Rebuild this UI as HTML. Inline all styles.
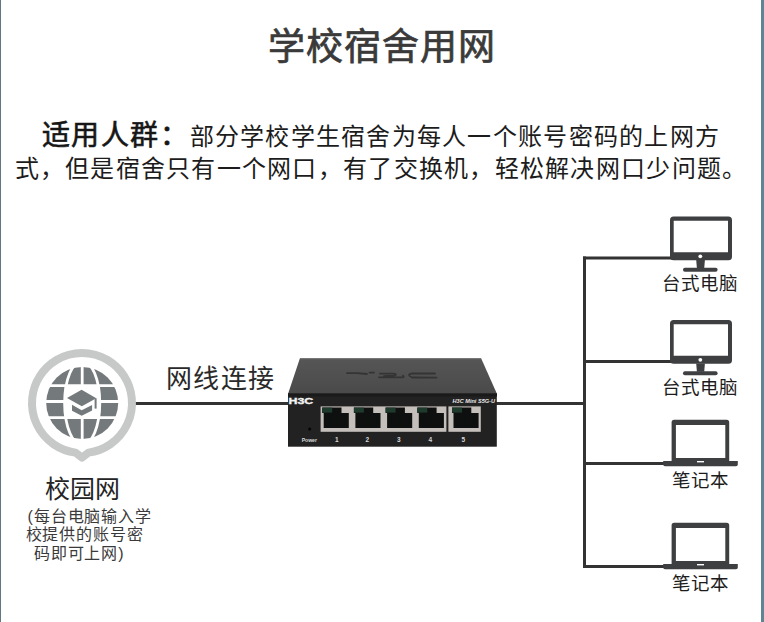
<!DOCTYPE html>
<html lang="zh-CN">
<head>
<meta charset="utf-8">
<style>
html,body{margin:0;padding:0;}
body{width:764px;height:622px;overflow:hidden;background:#fff;position:relative;font-family:"Liberation Sans",sans-serif;color:#333;}
.a{position:absolute;white-space:nowrap;line-height:1;}
#bl{position:absolute;left:0;top:0;width:1px;height:622px;background:#627880;}
#br{position:absolute;left:761px;top:0;width:3px;height:622px;background:#5f8494;}
#title{left:267.8px;top:28.7px;font-size:37px;letter-spacing:1px;color:#3a3a3a;-webkit-text-stroke:0.7px #3a3a3a;}
#p1b{left:41.5px;top:122px;font-size:28px;letter-spacing:1.5px;color:#161616;-webkit-text-stroke:0.6px #161616;}
#p1{left:189.5px;top:124.5px;font-size:24px;letter-spacing:1.27px;color:#1c1c1c;}
#p2{left:14.5px;top:156.5px;font-size:24px;letter-spacing:1.27px;color:#1c1c1c;}
#wx{left:166px;top:365.8px;font-size:26px;letter-spacing:1.35px;color:#2a2a2a;}
#xyw{left:45px;top:476.5px;font-size:25px;color:#242424;}
.sm{font-size:16px;letter-spacing:0.9px;color:#3a3a3a;}
#s1{left:27.5px;top:509px;}
#s2{left:25.5px;top:527px;}
#s3{left:33.8px;top:545.8px;}
.lbl{font-size:18.5px;color:#1c1c1c;}
svg{position:absolute;left:0;top:0;}
</style>
</head>
<body>
<div id="bl"></div><div id="br"></div>
<div class="a" id="title">学校宿舍用网</div>
<div class="a" id="p1b">适用人群：</div>
<div class="a" id="p1">部分学校学生宿舍为每人一个账号密码的上网方</div>
<div class="a" id="p2">式，但是宿舍只有一个网口，有了交换机，轻松解决网口少问题。</div>
<div class="a" id="wx">网线连接</div>
<div class="a" id="xyw">校园网</div>
<div class="a sm" id="s1">(每台电脑输入学</div>
<div class="a sm" id="s2">校提供的账号密</div>
<div class="a sm" id="s3">码即可上网)</div>
<div class="a lbl" style="left:662px;top:274.8px;">台式电脑</div>
<div class="a lbl" style="left:662px;top:378.5px;">台式电脑</div>
<div class="a lbl" style="left:672px;top:471.6px;">笔记本</div>
<div class="a lbl" style="left:672px;top:575px;">笔记本</div>

<svg width="764" height="622" viewBox="0 0 764 622">
  <!-- lines -->
  <g fill="#333">
    <rect x="135" y="402" width="155" height="3"/>
    <rect x="496" y="402" width="90" height="3"/>
    <rect x="583" y="256.5" width="3" height="311.5"/>
    <rect x="583" y="256.5" width="90" height="3"/>
    <rect x="583" y="360" width="90" height="3"/>
    <rect x="583" y="462" width="85" height="3"/>
    <rect x="583" y="565" width="85" height="3"/>
  </g>
  <!-- pin ring -->
  <path d="M75.5,452.6 A50,50 0 1 1 88.5,452.6 L82,457.6 Z" fill="none" stroke="#c6c9c8" stroke-width="8" stroke-linejoin="round"/>
  <!-- globe -->
  <circle cx="82.2" cy="403" r="36" fill="#74797c"/>
  <g stroke="#fff" stroke-width="2.8" fill="none">
    <ellipse cx="82.2" cy="403" rx="17.6" ry="42"/>
    <line x1="82.2" y1="365" x2="82.2" y2="441"/>
    <line x1="44" y1="385.7" x2="121" y2="385.7"/>
    <line x1="44" y1="401.5" x2="121" y2="401.5"/>
    <line x1="44" y1="417.7" x2="121" y2="417.7"/>
  </g>
  <path d="M65.5,386.5 L99,386.5 L99,417.5 L65.5,417.5 Z" fill="#fff"/>
  <!-- grad cap -->
  <path d="M67,398 L81.6,389.8 L96.3,398.3 L81.8,406.3 Z" fill="#74797c"/>
  <path d="M72,404.8 L81.7,410.2 L92.1,405 L92.1,410.4 L81.7,415.8 L72,410.7 Z" fill="#74797c"/>
  <rect x="94.6" y="398.3" width="2" height="10.3" fill="#74797c"/>

  <!-- switch -->
  <defs><linearGradient id="tg" x1="0" y1="0" x2="0" y2="1"><stop offset="0" stop-color="#575657"/><stop offset="1" stop-color="#4a4a4a"/></linearGradient></defs>
  <path d="M300,358 L481,358 L497,394 L288,394 Z" fill="url(#tg)"/>
  <rect x="300" y="358" width="181" height="1.2" fill="#767676"/>
  <rect x="288" y="393.5" width="208.8" height="53.2" fill="#222"/>
  <rect x="288" y="393.5" width="209" height="3" fill="#1a1a1a"/>
  <path d="M347,373.2 L357,373.2 L367,374 M369.5,372.6 L374,372.6 M380,373.6 L394,373.6 Q398,374.2 394,375.6 L384,376.2 M379,377.3 L403,377.3 Q404.5,376.5 403,375.8 M435,373.5 L412,373.5 Q406,374.6 412,377.5 L436.5,377.6" fill="none" stroke="#2f2f2f" stroke-width="1.8" stroke-linecap="round" opacity="0.85"/>
  <rect x="320.6" y="406.4" width="125.8" height="25.4" fill="#c4bfbb"/>
  <rect x="448.4" y="406.4" width="32.4" height="25.4" fill="#c4bfbb"/>
  <path d="M322.2,407.6 h19.3 v5.3 h7.3 v15.2 h-25.1 v-15.2 h-1.5 Z" fill="#0e0f0f"/>
  <rect x="322.2" y="407.6" width="10" height="5" fill="#1d3a2d"/>
  <path d="M353.9,407.6 h19.3 v5.3 h7.3 v15.2 h-25.1 v-15.2 h-1.5 Z" fill="#0e0f0f"/>
  <rect x="353.9" y="407.6" width="10" height="5" fill="#1d3a2d"/>
  <path d="M385.6,407.6 h19.3 v5.3 h7.3 v15.2 h-25.1 v-15.2 h-1.5 Z" fill="#0e0f0f"/>
  <rect x="385.6" y="407.6" width="10" height="5" fill="#1d3a2d"/>
  <path d="M417.3,407.6 h19.3 v5.3 h7.3 v15.2 h-25.1 v-15.2 h-1.5 Z" fill="#0e0f0f"/>
  <rect x="417.3" y="407.6" width="10" height="5" fill="#1d3a2d"/>
  <path d="M452.0,407.6 h19.3 v5.3 h7.3 v15.2 h-25.1 v-15.2 h-1.5 Z" fill="#0e0f0f"/>
  <rect x="452.0" y="407.6" width="10" height="5" fill="#1d3a2d"/>
  <g font-family="Liberation Sans" font-weight="700" fill="#d8d8d8" text-anchor="middle" font-size="6.5">
  <text x="336.7" y="442.3">1</text>
  <text x="367.4" y="442.3">2</text>
  <text x="398.8" y="442.3">3</text>
  <text x="430.2" y="442.3">4</text>
  <text x="463.2" y="442.3">5</text>
  <text x="309.3" y="442.3" font-size="5.5" textLength="15.3" lengthAdjust="spacingAndGlyphs">Power</text>
  </g>
  <circle cx="309.7" cy="428.9" r="1.5" fill="#050505"/>
  <text x="288.5" y="403.9" font-family="Liberation Sans" font-weight="700" font-size="9" fill="#f2f2f2" stroke="#f2f2f2" stroke-width="0.35" textLength="24.8" lengthAdjust="spacingAndGlyphs">H3C</text>
  <text x="452.6" y="403.2" font-family="Liberation Sans" font-weight="700" font-style="italic" font-size="5" fill="#e8e8e8" textLength="42.4" lengthAdjust="spacingAndGlyphs">H3C Mini S5G-U</text>

  <!-- desktops -->
  <g fill="#3d3f41" transform="translate(0,0)">
    <path d="M673.6,216.6 h54.8 a3.6,3.6 0 0 1 3.6,3.6 v36.5 a3.6,3.6 0 0 1 -3.6,3.6 h-54.8 a3.6,3.6 0 0 1 -3.6,-3.6 v-36.5 a3.6,3.6 0 0 1 3.6,-3.6 Z M673.7,220.7 v31.6 h54.3 v-31.6 Z" fill-rule="evenodd"/>
    <circle cx="700.3" cy="256.3" r="1.9" fill="#fff"/>
    <path d="M696.2,260 h8.7 l-0.7,8.2 h-7.3 Z"/>
    <rect x="683" y="267.8" width="34.6" height="3.9" rx="1.9"/>
  </g>
  <g fill="#3d3f41" transform="translate(0,103.5)">
    <path d="M673.6,216.6 h54.8 a3.6,3.6 0 0 1 3.6,3.6 v36.5 a3.6,3.6 0 0 1 -3.6,3.6 h-54.8 a3.6,3.6 0 0 1 -3.6,-3.6 v-36.5 a3.6,3.6 0 0 1 3.6,-3.6 Z M673.7,220.7 v31.6 h54.3 v-31.6 Z" fill-rule="evenodd"/>
    <circle cx="700.3" cy="256.3" r="1.9" fill="#fff"/>
    <path d="M696.2,260 h8.7 l-0.7,8.2 h-7.3 Z"/>
    <rect x="683" y="267.8" width="34.6" height="3.9" rx="1.9"/>
  </g>
  <!-- laptops -->
  <g fill="#3d3f41" transform="translate(0,0)">
    <path d="M674.1,419.8 h52.6 a2.5,2.5 0 0 1 2.5,2.5 v39.2 h-57.6 v-39.2 a2.5,2.5 0 0 1 2.5,-2.5 Z M675.9,424.9 v33 h49.4 v-33 Z" fill-rule="evenodd"/>
    <path d="M663.2,461 h74.6 v3.5 a1.8,1.8 0 0 1 -1.8,1.8 h-71 a1.8,1.8 0 0 1 -1.8,-1.8 Z"/>
    <rect x="697" y="461" width="7" height="1.4" fill="#fff"/>
  </g>
  <g fill="#3d3f41" transform="translate(0,103)">
    <path d="M674.1,419.8 h52.6 a2.5,2.5 0 0 1 2.5,2.5 v39.2 h-57.6 v-39.2 a2.5,2.5 0 0 1 2.5,-2.5 Z M675.9,424.9 v33 h49.4 v-33 Z" fill-rule="evenodd"/>
    <path d="M663.2,461 h74.6 v3.5 a1.8,1.8 0 0 1 -1.8,1.8 h-71 a1.8,1.8 0 0 1 -1.8,-1.8 Z"/>
    <rect x="697" y="461" width="7" height="1.4" fill="#fff"/>
  </g>
</svg>
</body>
</html>
